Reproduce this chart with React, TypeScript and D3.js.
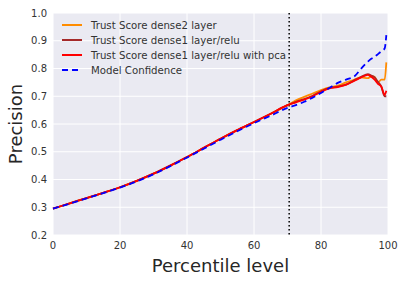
import React from 'react';
import * as d3 from 'd3';

const pct = [0, 5, 10, 15, 20, 25, 30, 35, 40, 45, 50, 55, 60, 65, 70, 72.5, 75, 77.5, 80, 82.5, 85, 87.5, 90, 92, 94, 95, 96, 97, 98, 99, 99.5];

const dense2 = [0.295, 0.314, 0.333, 0.352, 0.372, 0.395, 0.421, 0.45, 0.481, 0.514, 0.547, 0.578, 0.607, 0.637, 0.668,
  0.685, 0.698, 0.71, 0.722, 0.732, 0.738, 0.75, 0.76, 0.768, 0.765, 0.772, 0.77, 0.75, 0.76, 0.76, 0.822];
const dense1 = [0.295, 0.314, 0.333, 0.352, 0.372, 0.395, 0.421, 0.45, 0.481, 0.514, 0.547, 0.578, 0.607, 0.637, 0.668,
  0.68, 0.69, 0.702, 0.718, 0.73, 0.735, 0.742, 0.758, 0.77, 0.78, 0.775, 0.768, 0.752, 0.735, 0.7, 0.7];
const dense1Pca = [0.295, 0.314, 0.333, 0.352, 0.372, 0.395, 0.421, 0.45, 0.481, 0.514, 0.547, 0.578, 0.607, 0.637, 0.668,
  0.678, 0.688, 0.7, 0.716, 0.728, 0.733, 0.742, 0.756, 0.768, 0.777, 0.77, 0.76, 0.745, 0.735, 0.705, 0.72];
const confidence = [0.295, 0.313, 0.332, 0.351, 0.371, 0.393, 0.419, 0.448, 0.479, 0.511, 0.543, 0.574, 0.603, 0.63, 0.658,
  0.668, 0.68, 0.695, 0.712, 0.73, 0.748, 0.76, 0.772, 0.8, 0.825, 0.835, 0.842, 0.852, 0.862, 0.872, 0.92];

const seriesNames = ['Trust Score dense2 layer', 'Trust Score dense1 layer/relu', 'Trust Score dense1 layer/relu with pca', 'Model Confidence'];
const seriesValues = [dense2, dense1, dense1Pca, confidence];
const seriesColors = ['#ff8c00', '#a52a2a', '#ff0000', '#0000ff'];
const seriesDash = [null, null, null, '6,4'];

const xTicks = [0, 20, 40, 60, 80, 100];
const yTicks = [0.2, 0.3, 0.4, 0.5, 0.6, 0.7, 0.8, 0.9, 1.0];
const cutoff = 70.5;

const W = 404;
const H = 282;
const margin = { top: 13, right: 16, bottom: 47, left: 53 };

export default function App() {
  const iw = W - margin.left - margin.right;
  const ih = H - margin.top - margin.bottom;
  const x = d3.scaleLinear().domain([0, 100]).range([0, iw]);
  const y = d3.scaleLinear().domain([0.2, 1.0]).range([ih, 0]);
  const line = d3.line<number>().x((d, i) => x(pct[i])).y(d => y(d)).curve(d3.curveMonotoneX);
  const font = 'DejaVu Sans, sans-serif';

  return (
    <svg width={W} height={H} style={{ position: 'absolute', left: 0, top: 0, background: '#fff' }} fontFamily={font}>
      <g transform={'translate(' + margin.left + ',' + margin.top + ')'}>
        <rect width={iw} height={ih} fill="#eaeaf2" />
        {xTicks.map(t => (
          <line key={'gx' + t} x1={x(t)} x2={x(t)} y1={0} y2={ih} stroke="#fff" strokeWidth={1} />
        ))}
        {yTicks.map(t => (
          <line key={'gy' + t} x1={0} x2={iw} y1={y(t)} y2={y(t)} stroke="#fff" strokeWidth={1} />
        ))}
        <line x1={x(cutoff)} x2={x(cutoff)} y1={0} y2={ih} stroke="#000" strokeWidth={1.5} strokeDasharray="1.5,2.5" />
        {seriesValues.map((vals, i) => (
          <path key={'s' + i} d={line(vals) || ''} fill="none" stroke={seriesColors[i]} strokeWidth={1.8}
            strokeDasharray={seriesDash[i] || undefined} strokeLinejoin="round" />
        ))}
        {xTicks.map(t => (
          <text key={'tx' + t} x={x(t)} y={ih + 14} textAnchor="middle" fontSize={10} fill="#333">{t}</text>
        ))}
        {yTicks.map(t => (
          <text key={'ty' + t} x={-6} y={y(t) + 3.5} textAnchor="end" fontSize={10} fill="#333">{t.toFixed(1)}</text>
        ))}
        <text x={iw / 2} y={ih + 37} textAnchor="middle" fontSize={18} fill="#262626">Percentile level</text>
        <text transform={'translate(' + (-31) + ',' + (ih / 2) + ') rotate(-90)'} textAnchor="middle" fontSize={18} fill="#262626">Precision</text>
        {seriesNames.map((name, i) => (
          <g key={'l' + i} transform={'translate(9,' + (12 + i * 15) + ')'}>
            <line x1={0} x2={20} y1={0} y2={0} stroke={seriesColors[i]} strokeWidth={2}
              strokeDasharray={seriesDash[i] || undefined} />
            <text x={29} y={3.5} fontSize={10.2} fill="#333">{name}</text>
          </g>
        ))}
      </g>
    </svg>
  );
}
